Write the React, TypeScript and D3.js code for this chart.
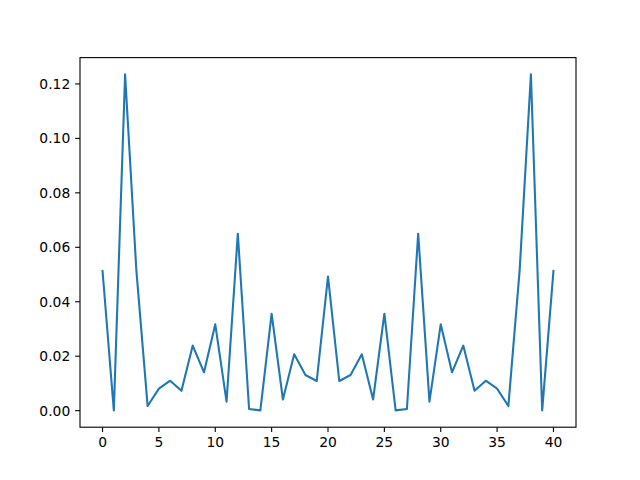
import React from "react";
import * as d3 from "d3";

const xValues: number[] = Array.from({ length: 41 }, (_, i) => i);
const yValues: number[] = [
  0.0513, 0.0001, 0.1235, 0.0515, 0.0017, 0.0081, 0.0110, 0.0073, 0.0239, 0.0141,
  0.0317, 0.0033, 0.0650, 0.0006, 0.0001, 0.0356, 0.0041, 0.0207, 0.0131, 0.0109,
  0.0493,
  0.0109, 0.0131, 0.0207, 0.0041, 0.0356, 0.0001, 0.0006, 0.0650, 0.0033, 0.0317,
  0.0141, 0.0239, 0.0073, 0.0110, 0.0081, 0.0017, 0.0515, 0.1235, 0.0001, 0.0513,
];
const xTicks: number[] = [0, 5, 10, 15, 20, 25, 30, 35, 40];
const yTicks: number[] = [0.0, 0.02, 0.04, 0.06, 0.08, 0.1, 0.12];

const W = 640;
const H = 480;
const left = 80;
const right = 576;
const top = 57.6;
const bottom = 427.2;

export default function App() {
  const xMin = d3.min(xValues)!;
  const xMax = d3.max(xValues)!;
  const yMin = d3.min(yValues)!;
  const yMax = d3.max(yValues)!;
  const xPad = (xMax - xMin) * 0.05;
  const yPad = (yMax - yMin) * 0.05;
  const x = d3.scaleLinear().domain([xMin - xPad, xMax + xPad]).range([left, right]);
  const y = d3.scaleLinear().domain([yMin - yPad, yMax + yPad]).range([bottom, top]);
  const line = d3
    .line<number>()
    .x((_, i) => x(xValues[i]))
    .y((d) => y(d));
  const font = "DejaVu Sans, sans-serif";
  const fs = 13.89;
  const tickLen = 4.86;
  return (
    <svg
      width={W}
      height={H}
      style={{ position: "absolute", left: 0, top: 0, background: "#fff" }}
    >
      <rect x={0} y={0} width={W} height={H} fill="#fff" />
      <path
        d={line(yValues) || ""}
        fill="none"
        stroke="#1f77b4"
        strokeWidth={2.08}
        strokeLinejoin="round"
        strokeLinecap="square"
      />
      <rect
        x={left}
        y={top}
        width={right - left}
        height={bottom - top}
        fill="none"
        stroke="#000"
        strokeWidth={1.1}
      />
      {xTicks.map((t) => (
        <g key={"x" + t}>
          <line x1={x(t)} x2={x(t)} y1={bottom} y2={bottom + tickLen} stroke="#000" strokeWidth={1.1} />
          <text
            x={x(t)}
            y={bottom + tickLen + 4.86 + fs * 0.76}
            textAnchor="middle"
            fontFamily={font}
            fontSize={fs}
            fill="#000"
          >
            {t}
          </text>
        </g>
      ))}
      {yTicks.map((t) => (
        <g key={"y" + t}>
          <line x1={left - tickLen} x2={left} y1={y(t)} y2={y(t)} stroke="#000" strokeWidth={1.1} />
          <text
            x={left - tickLen - 4.86}
            y={y(t)}
            dy="0.36em"
            textAnchor="end"
            fontFamily={font}
            fontSize={fs}
            fill="#000"
          >
            {t.toFixed(2)}
          </text>
        </g>
      ))}
    </svg>
  );
}
